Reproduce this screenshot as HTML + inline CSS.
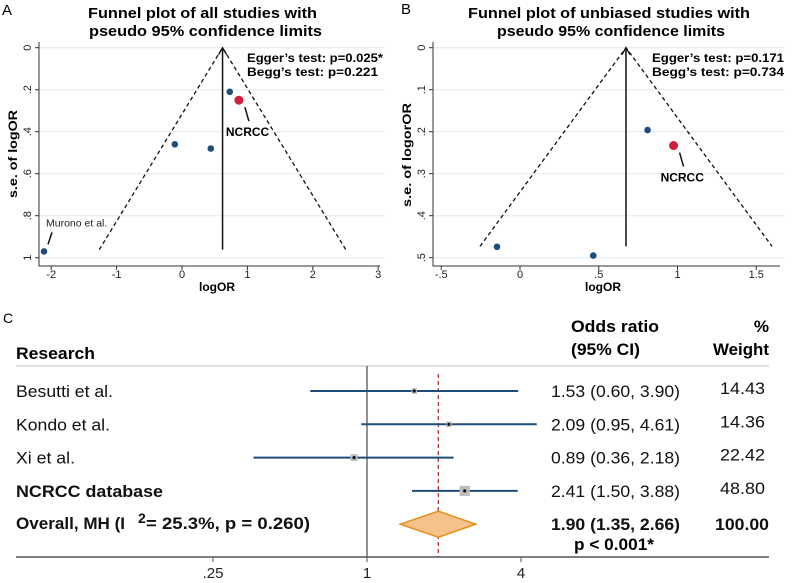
<!DOCTYPE html>
<html><head><meta charset="utf-8"><style>
html,body{margin:0;padding:0;background:#fff;}
svg{display:block;font-family:"Liberation Sans",Arial,sans-serif;}
</style></head><body>
<svg id="fig" width="792" height="583" viewBox="0 0 792 583" xmlns="http://www.w3.org/2000/svg">
<g>
<text x="2" y="15" font-size="15">A</text>
<text x="88" y="18" font-size="15" font-weight="bold" textLength="229" lengthAdjust="spacingAndGlyphs">Funnel plot of all studies with</text>
<text x="89" y="36" font-size="15" font-weight="bold" textLength="233" lengthAdjust="spacingAndGlyphs">pseudo 95% confidence limits</text>
<text transform="translate(17,154) rotate(-90)" text-anchor="middle" font-size="12" font-weight="bold" textLength="88" lengthAdjust="spacingAndGlyphs">s.e. of logOR</text>
<text x="217" y="291" text-anchor="middle" font-size="12" font-weight="bold">logOR</text>
<text x="247" y="62" font-size="11.5" font-weight="bold" textLength="136" lengthAdjust="spacingAndGlyphs">Egger’s test:  p=0.025*</text>
<text x="247" y="76" font-size="11.5" font-weight="bold" textLength="131" lengthAdjust="spacingAndGlyphs">Begg’s test:   p=0.221</text>
</g>
<g>
<text x="401" y="14" font-size="15">B</text>
<text x="468" y="18" font-size="15" font-weight="bold" textLength="282" lengthAdjust="spacingAndGlyphs">Funnel plot of unbiased studies with</text>
<text x="497" y="36" font-size="15" font-weight="bold" textLength="228" lengthAdjust="spacingAndGlyphs">pseudo 95% confidence limits</text>
<text transform="translate(411,155) rotate(-90)" text-anchor="middle" font-size="12" font-weight="bold" textLength="104" lengthAdjust="spacingAndGlyphs">s.e. of logorOR</text>
<text x="603" y="291" text-anchor="middle" font-size="12" font-weight="bold">logOR</text>
<text x="652" y="62" font-size="11.5" font-weight="bold" textLength="132" lengthAdjust="spacingAndGlyphs">Egger’s test:  p=0.171</text>
<text x="652" y="76" font-size="11.5" font-weight="bold" textLength="132" lengthAdjust="spacingAndGlyphs">Begg’s test:   p=0.734</text>
</g>
<g font-size="17">
<text x="3" y="323" font-size="14">C</text>
<text x="16" y="359" font-weight="bold" textLength="79" lengthAdjust="spacingAndGlyphs">Research</text>
<text x="571" y="332" font-weight="bold" textLength="88" lengthAdjust="spacingAndGlyphs">Odds ratio</text>
<text x="571" y="355" font-weight="bold" textLength="69" lengthAdjust="spacingAndGlyphs">(95% CI)</text>
<text x="769" y="332" font-weight="bold" text-anchor="end">%</text>
<text x="713" y="355" font-weight="bold" textLength="56" lengthAdjust="spacingAndGlyphs">Weight</text>
<line x1="16" y1="366" x2="769" y2="366" stroke="#d6d6d6" stroke-width="1.5"/>
<text x="574" y="550" font-weight="bold" textLength="80" lengthAdjust="spacingAndGlyphs">p &lt; 0.001*</text>
</g>
<g id="layer"></g>
</svg>
<script>
// ---- Panel A data ----
const aLogOR = [0.73, 0.87, -0.11, 0.44, -2.11];
const aSE = [0.21, 0.25, 0.46, 0.48, 0.97];
const aHighlight = [false, true, false, false, false];
const aPooled = 0.62;
const aSEMax = 0.962;
const aXTicks = [-2, -1, 0, 1, 2, 3];
const aXTickLabels = ["-2", "-1", "0", "1", "2", "3"];
const aYTicks = [0, 0.2, 0.4, 0.6, 0.8, 1];
const aYTickLabels = ["0", ".2", ".4", ".6", ".8", "1"];
// ---- Panel B data ----
const bLogOR = [-0.146, 0.465, 0.81, 0.975];
const bSE = [0.474, 0.495, 0.196, 0.233];
const bHighlight = [false, false, false, true];
const bPooled = 0.673;
const bSEMax = 0.473;
const bXTicks = [-0.5, 0, 0.5, 1, 1.5];
const bXTickLabels = ["-.5", "0", ".5", "1", "1.5"];
const bYTicks = [0, 0.1, 0.2, 0.3, 0.4, 0.5];
const bYTickLabels = ["0", ".1", ".2", ".3", ".4", ".5"];
// ---- Panel C data ----
const cStudies = ["Besutti et al.", "Kondo et al.", "Xi et al.", "NCRCC database"];
const cOR = [1.53, 2.09, 0.89, 2.41];
const cLow = [0.60, 0.95, 0.36, 1.50];
const cHigh = [3.90, 4.61, 2.18, 3.88];
const cWeight = [14.43, 14.36, 22.42, 48.80];
const cOverall = [1.90, 1.35, 2.66];
const cOverallWeight = 100.00;
const cXTicks = [0.25, 1, 4];
const cXTickLabels = [".25", "1", "4"];

const NS = "http://www.w3.org/2000/svg";
const layer = document.getElementById("layer");
function mk(tag, attrs, parent) {
  const e = document.createElementNS(NS, tag);
  for (const k in attrs) e.setAttribute(k, attrs[k]);
  (parent || layer).appendChild(e);
  return e;
}
const BLUE = "#1d4e7a", RED = "#d21f3c";

function funnel(p) {
  const g = mk("g", {});
  
  
  const X = v => p.x0 + (v - p.xv0) * p.xs;
  const Y = v => p.y0 + v * p.ys;
  p.yTicks.forEach((t, i) => {
    const gl = mk("line", {x1: p.left, x2: p.right + 5, y1: Y(t), y2: Y(t), stroke: "#dfeaf1", "stroke-width": 1}, g);
    
    
    const tk = mk("line", {x1: p.left - 4, x2: p.left, y1: Y(t), y2: Y(t), stroke: "#333"}, g);
    
    
    const tl = mk("text", {transform: `translate(${p.left - 8},${Y(t)}) rotate(-90)`, "text-anchor": "middle", "font-size": 11, fill: "#222"}, g);
    tl.textContent = p.yLabels[i];
    
    
  });
  p.xTicks.forEach((t, i) => {
    const tk = mk("line", {x1: X(t), x2: X(t), y1: p.bottom, y2: p.bottom + 4, stroke: "#333"}, g);
    
    
    const tl = mk("text", {x: X(t), y: 278, "text-anchor": "middle", "font-size": 11, fill: "#222"}, g);
    tl.textContent = p.xLabels[i];
    
    
  });
  const ax = mk("path", {d: `M${p.left},${p.top} V${p.bottom} H${p.right}`, fill: "none", stroke: "#333", "stroke-width": 1}, g);
  
  
  const z = 1.96 * p.seMax;
  const fl = mk("path", {d: `M${X(p.pooled - z)},${Y(p.seMax)} L${X(p.pooled)},${Y(0)} L${X(p.pooled + z)},${Y(p.seMax)}`, fill: "none", stroke: "#111", "stroke-width": 1.3, "stroke-dasharray": "4,3"}, g);
  
  
  const vl = mk("line", {x1: X(p.pooled), x2: X(p.pooled), y1: Y(0), y2: Y(p.seMax), stroke: "#111", "stroke-width": 1.5}, g);
  
  
  const ah = mk("path", {d: `M${X(p.pooled)-4},${Y(0)+7} L${X(p.pooled)},${Y(0)} L${X(p.pooled)+4},${Y(0)+7}`, fill: "none", stroke: "#111", "stroke-width": 1.3}, g);
  
  
  p.xs_.forEach((v, i) => {
    const c = mk("circle", {cx: X(v), cy: Y(p.se[i]), r: p.hl[i] ? 4.5 : 3.3, fill: p.hl[i] ? RED : BLUE}, g);
    
    
    if (p.hl[i]) {
      const cx = X(v), cy = Y(p.se[i]);
      const ln = mk("line", {x1: cx + 6, y1: cy + 7, x2: cx + 10, y2: cy + 21, stroke: "#111", "stroke-width": 1.5}, g);
      
      
      const tx = mk("text", {x: cx - 13, y: cy + 36, "font-size": 12, "font-weight": "bold"}, g);
      tx.textContent = "NCRCC";
      
      
    }
  });
  return X;
}

funnel({name: "panel-a", x0: 182, xv0: 0, xs: 65.4, y0: 47.7, ys: 210, left: 39, right: 380, top: 42, bottom: 266,
  xTicks: aXTicks, xLabels: aXTickLabels, yTicks: aYTicks, yLabels: aYTickLabels,
  pooled: aPooled, seMax: aSEMax, xs_: aLogOR, se: aSE, hl: aHighlight});
{
  const mx = 182 + aLogOR[4] * 65.4, my = 47.7 + aSE[4] * 210;
  const ln = mk("line", {x1: mx + 4, y1: my - 7, x2: mx + 8, y2: my - 19, stroke: "#111", "stroke-width": 1.5});
  
  
  const tx = mk("text", {x: mx + 2, y: my - 25, "font-size": 10.5, fill: "#222"});
  tx.textContent = "Murono et al.";
  
  
}
funnel({name: "panel-b", x0: 520, xv0: 0, xs: 157.5, y0: 47.7, ys: 420, left: 433, right: 780, top: 42, bottom: 266,
  xTicks: bXTicks, xLabels: bXTickLabels, yTicks: bYTicks, yLabels: bYTickLabels,
  pooled: bPooled, seMax: bSEMax, xs_: bLogOR, se: bSE, hl: bHighlight});

// ---- Forest plot ----
const FX = v => 367 + 77 * Math.log2(v);
const rowY = i => 391 + i * 33.3;
const fg = mk("g", {});


const nl = mk("line", {x1: FX(1), x2: FX(1), y1: 366, y2: 557, stroke: "#222", "stroke-width": 1}, fg);


const ol = mk("line", {x1: FX(cOverall[0]), x2: FX(cOverall[0]), y1: 374, y2: 557, stroke: "#b0222e", "stroke-width": 1.2, "stroke-dasharray": "4,3"}, fg);


const bx = mk("line", {x1: 16, x2: 769, y1: 557, y2: 557, stroke: "#555", "stroke-width": 1.5}, fg);


cXTicks.forEach((t, i) => {
  const tk = mk("line", {x1: FX(t), x2: FX(t), y1: 557, y2: 562, stroke: "#555"}, fg);
  
  
  const tl = mk("text", {x: FX(t), y: 578, "text-anchor": "middle", "font-size": 15, fill: "#222"}, fg);
  tl.textContent = cXTickLabels[i];
  
  
});
const fmt = v => v.toFixed(2);
const nameW = [97, 94, 59, 147];
cStudies.forEach((s, i) => {
  const y = rowY(i);
  const bold = i === 3;
  const nm = mk("text", {x: 16, y: y + 6, "font-size": 17, "font-weight": bold ? "bold" : "normal", fill: "#111",
    textLength: nameW[i], lengthAdjust: "spacingAndGlyphs"}, fg);
  nm.textContent = s;
  
  
  const ci = mk("line", {x1: FX(cLow[i]), x2: FX(cHigh[i]), y1: y, y2: y, stroke: BLUE, "stroke-width": 2}, fg);
  
  
  const sz = 1.45 * Math.sqrt(cWeight[i]);
  const sq = mk("rect", {x: FX(cOR[i]) - sz / 2, y: y - sz / 2, width: sz, height: sz, fill: "#bdbdbd"}, fg);
  
  
  const pt = mk("circle", {cx: FX(cOR[i]), cy: y, r: 1.6, fill: "#111"}, fg);
  
  
  const ot = mk("text", {x: 551, y: y + 6, "font-size": 17, fill: "#111", textLength: 129, lengthAdjust: "spacingAndGlyphs"}, fg);
  ot.textContent = `${fmt(cOR[i])} (${fmt(cLow[i])}, ${fmt(cHigh[i])})`;
  
  
  const wt = mk("text", {x: 720, y: y + 3, "font-size": 17, fill: "#111", textLength: 45, lengthAdjust: "spacingAndGlyphs"}, fg);
  wt.textContent = fmt(cWeight[i]);
  
  
});
{
  const y = rowY(4);
  const nm = mk("text", {x: 16, y: y + 5, "font-size": 17, "font-weight": "bold", fill: "#111"}, fg);
  
  
  const t1 = mk("tspan", {textLength: 109, lengthAdjust: "spacingAndGlyphs"}, nm); t1.textContent = "Overall, MH (I";
  const t2 = mk("tspan", {x: 138, dy: -6, "font-size": 14}, nm); t2.textContent = "2";
  const t3 = mk("tspan", {x: 146, dy: 6, textLength: 164, lengthAdjust: "spacingAndGlyphs"}, nm); t3.textContent = "= 25.3%, p = 0.260)";
  const d = mk("polygon", {points: `${FX(cOverall[1])},${y} ${FX(cOverall[0])},${y - 13} ${FX(cOverall[2])},${y} ${FX(cOverall[0])},${y + 13}`,
    fill: "#f4c28a", stroke: "#e58e1a", "stroke-width": 1.5}, fg);
  
  
  const ot = mk("text", {x: 551, y: y + 6, "font-size": 17, "font-weight": "bold", fill: "#111", textLength: 129, lengthAdjust: "spacingAndGlyphs"}, fg);
  ot.textContent = `${fmt(cOverall[0])} (${fmt(cOverall[1])}, ${fmt(cOverall[2])})`;
  
  
  const wt = mk("text", {x: 715, y: y + 6, "font-size": 17, "font-weight": "bold", fill: "#111", textLength: 54, lengthAdjust: "spacingAndGlyphs"}, fg);
  wt.textContent = fmt(cOverallWeight);
  
  
}
</script>
</body></html>
